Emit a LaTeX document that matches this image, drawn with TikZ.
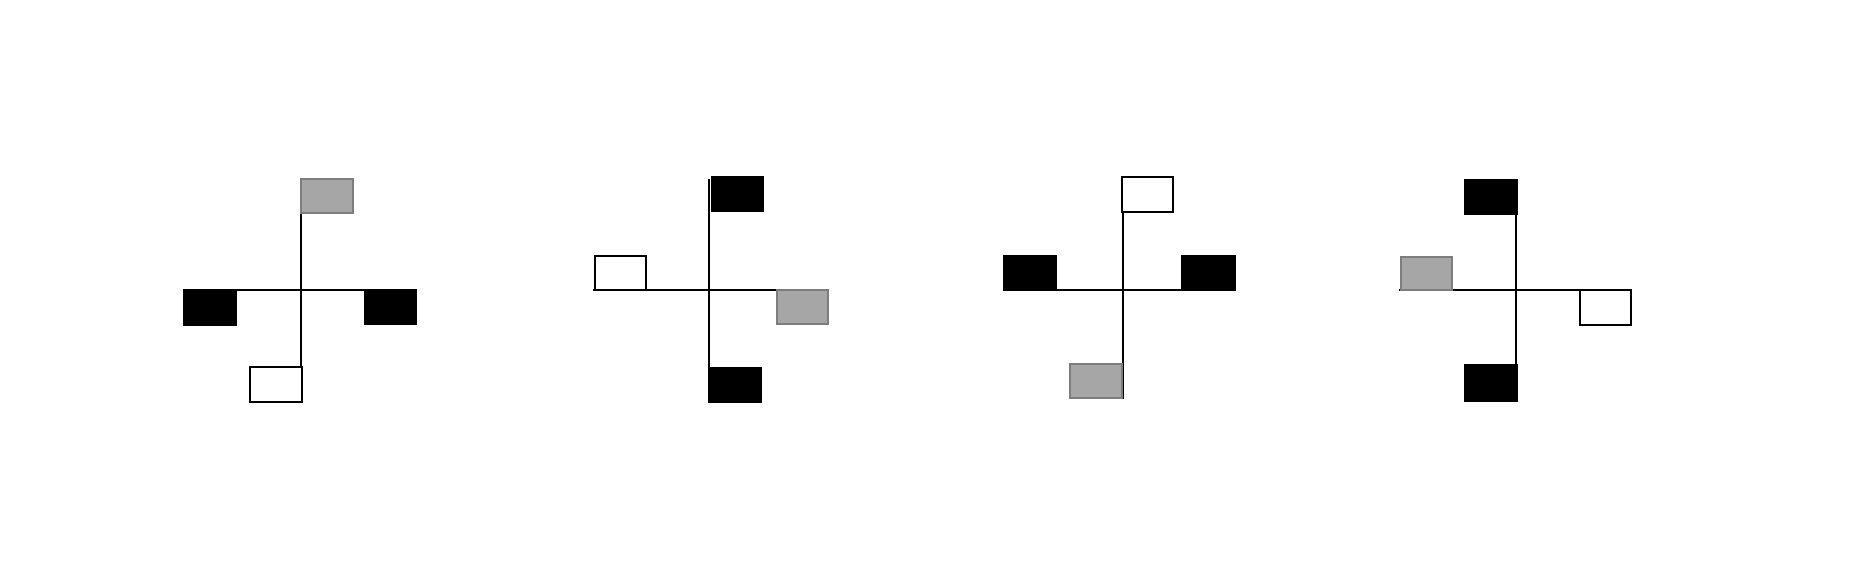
\documentclass[tikz,border=0pt]{standalone}
\usepackage{tikz}
\usepackage{xcolor}
\definecolor{flaggray}{RGB}{166,166,166}
\definecolor{flagedge}{RGB}{125,125,125}

\begin{document}
\begin{tikzpicture}[x=0.1mm,y=-0.1mm,
        arm/.style={line width=0.2mm,black},
        crossarm/.style={line width=0.25mm,black},
        blackflag/.style={fill=black,draw=black,line width=0.12mm},
        grayflag/.style={fill=flaggray,draw=flagedge,line width=0.14mm},
        whiteflag/.style={fill=white,draw=black,line width=0.14mm}]
        \useasboundingbox (0,0) rectangle (1861,580);

        % first cross
        \begin{scope}[shift={(301,290)}]
        \draw[arm] (0,-111) -- (0,112);
        \draw[crossarm] (-116,0) -- (116,0);
        \filldraw[grayflag] (0,-111) rectangle (52,-77);
        \filldraw[blackflag] (-117,0) rectangle (-65,35);
        \filldraw[blackflag] (64,0) rectangle (115,34);
        \filldraw[whiteflag] (-51,77) rectangle (1,112);
        \end{scope}

        % second cross
        \begin{scope}[shift={(709,290)}]
        \draw[arm] (0,-111) -- (0,112);
        \draw[crossarm] (-116,0) -- (118,0);
        \filldraw[blackflag] (3,-113) rectangle (54,-79);
        \filldraw[whiteflag] (-114,-34) rectangle (-63,0);
        \filldraw[grayflag] (68,0) rectangle (119,34);
        \filldraw[blackflag] (0,78) rectangle (52,112);
        \end{scope}

        % third cross
        \begin{scope}[shift={(1123,290)}]
        \draw[arm] (0,-112) -- (0,109);
        \draw[crossarm] (-120,0) -- (113,0);
        \filldraw[whiteflag] (-1,-113) rectangle (50,-78);
        \filldraw[blackflag] (-119,-34) rectangle (-67,0);
        \filldraw[blackflag] (59,-34) rectangle (112,0);
        \filldraw[grayflag] (-53,74) rectangle (-1,108);
        \end{scope}

        % fourth cross
        \begin{scope}[shift={(1516,290)}]
        \draw[arm] (0,-110) -- (0,111);
        \draw[crossarm] (-117,0) -- (114,0);
        \filldraw[blackflag] (-51,-110) rectangle (1,-76);
        \filldraw[grayflag] (-115,-33) rectangle (-64,0);
        \filldraw[whiteflag] (64,0) rectangle (115,35);
        \filldraw[blackflag] (-51,75) rectangle (1,111);
        \end{scope}
    \end{tikzpicture}
\end{document}
